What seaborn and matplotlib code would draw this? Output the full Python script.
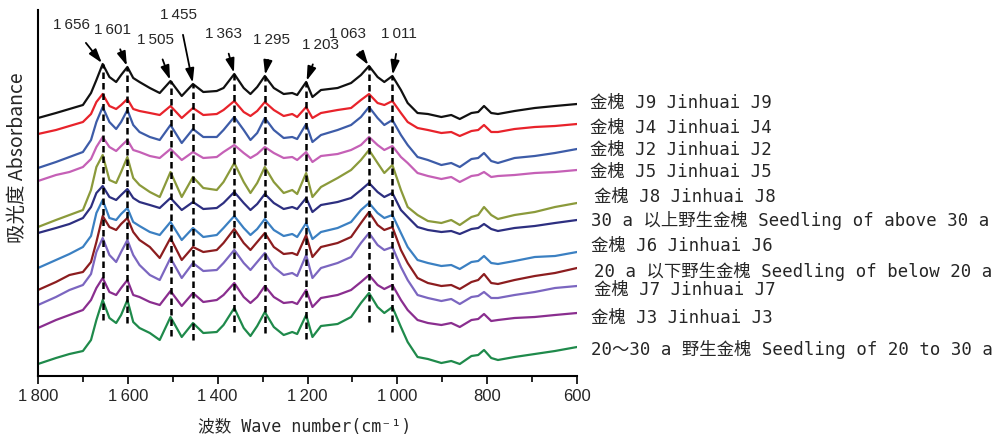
import numpy as np
import pandas as pd
import matplotlib
matplotlib.use('Agg')
import matplotlib.pyplot as plt
from matplotlib.ticker import FixedLocator, MultipleLocator
import seaborn as sns

# wavenumber grid (cm-1) and stacked absorbance traces (offset, a.u.)
wavenumber = [1800, 1760, 1730, 1700, 1682, 1670, 1656, 1641, 1626, 1615,
              1601, 1588, 1574, 1551, 1529, 1505, 1480, 1455, 1432, 1402,
              1387, 1363, 1342, 1327, 1312, 1295, 1275, 1253, 1234, 1223,
              1203, 1189, 1170, 1133, 1103, 1081, 1063, 1044, 1029, 1011,
              992, 977, 955, 932, 902, 880, 861, 835, 820, 807,
              791, 776, 739, 694, 649, 600]

j9 = [258, 263, 267, 271, 283, 296, 312, 299, 294, 301,
      309, 298, 294, 288, 283, 295, 280, 292, 284, 285,
      288, 302, 288, 282, 289, 300, 288, 282, 283, 281,
      294, 279, 286, 288, 293, 301, 310, 299, 294, 300,
      286, 273, 263, 262, 259, 261, 257, 263, 264, 270,
      263, 262, 265, 268, 270, 272]
j4 = [242, 246, 250, 254, 262, 274, 282, 270, 267, 271,
      277, 267, 265, 263, 261, 270, 258, 268, 261, 262,
      266, 275, 264, 260, 265, 274, 266, 260, 262, 259,
      269, 258, 263, 266, 268, 276, 282, 273, 271, 275,
      263, 254, 248, 246, 243, 244, 240, 245, 246, 251,
      244, 244, 247, 249, 250, 252]
j2 = [208, 214, 219, 224, 236, 254, 269, 254, 247, 254,
      266, 251, 244, 239, 236, 251, 233, 247, 239, 239,
      246, 259, 246, 236, 243, 258, 246, 238, 239, 237,
      252, 234, 241, 246, 251, 259, 269, 258, 251, 256,
      241, 231, 219, 216, 211, 213, 209, 217, 218, 223,
      215, 213, 218, 220, 223, 227]
j5 = [195, 201, 204, 209, 217, 229, 239, 229, 225, 230,
      236, 226, 224, 220, 218, 227, 216, 224, 218, 219,
      224, 231, 223, 218, 222, 229, 223, 218, 219, 216,
      224, 214, 220, 222, 226, 231, 239, 231, 226, 230,
      219, 213, 203, 200, 197, 199, 194, 200, 201, 204,
      199, 200, 201, 203, 204, 206]
j8 = [149, 156, 161, 166, 186, 209, 221, 196, 193, 204,
      219, 198, 191, 184, 179, 204, 179, 199, 188, 186,
      194, 213, 194, 183, 193, 209, 194, 183, 186, 182,
      203, 179, 189, 198, 206, 216, 226, 213, 203, 211,
      186, 169, 161, 155, 153, 156, 151, 159, 161, 169,
      161, 157, 161, 164, 169, 173]
wild_above30 = [143, 148, 152, 158, 169, 183, 190, 179, 176, 181,
                187, 178, 174, 171, 168, 178, 166, 174, 167, 168,
                173, 184, 173, 166, 172, 182, 173, 167, 169, 167,
                178, 164, 171, 174, 178, 186, 193, 184, 179, 183,
                166, 159, 149, 146, 144, 145, 142, 147, 148, 152,
                147, 145, 148, 150, 153, 156]
j6 = [108, 116, 122, 129, 140, 163, 176, 158, 156, 162,
      168, 154, 150, 144, 141, 154, 136, 148, 139, 141,
      148, 160, 148, 141, 147, 157, 146, 140, 142, 139,
      153, 137, 144, 148, 154, 166, 173, 163, 158, 161,
      143, 129, 116, 113, 110, 111, 107, 114, 115, 120,
      113, 112, 115, 119, 120, 124]
wild_below20 = [86, 94, 101, 104, 114, 134, 160, 149, 146, 152,
                158, 144, 136, 129, 118, 138, 116, 129, 124, 126,
                133, 147, 133, 126, 134, 143, 129, 122, 123, 121,
                141, 119, 129, 133, 139, 153, 164, 151, 146, 149,
                126, 113, 98, 93, 90, 91, 87, 94, 96, 102,
                93, 92, 96, 100, 103, 108]
j7 = [71, 79, 86, 91, 102, 124, 138, 121, 114, 124,
      136, 121, 111, 101, 96, 118, 98, 113, 105, 106,
      113, 126, 113, 106, 114, 123, 109, 101, 103, 100,
      121, 98, 108, 113, 119, 133, 143, 131, 126, 129,
      109, 96, 81, 78, 75, 77, 72, 79, 80, 84,
      78, 78, 81, 84, 88, 90]
j3 = [48, 56, 61, 66, 76, 88, 98, 84, 81, 88,
      96, 81, 79, 74, 71, 85, 70, 83, 74, 76,
      81, 93, 79, 73, 79, 90, 79, 73, 74, 72,
      86, 69, 78, 81, 86, 94, 101, 91, 87, 91,
      76, 66, 56, 53, 51, 53, 49, 56, 57, 62,
      55, 56, 58, 59, 61, 63]
wild_20to30 = [12, 18, 22, 25, 36, 56, 76, 58, 53, 61,
               76, 54, 48, 43, 36, 59, 39, 53, 43, 44,
               51, 68, 48, 40, 50, 64, 49, 41, 44, 42,
               61, 39, 50, 52, 59, 73, 83, 69, 63, 69,
               49, 34, 19, 17, 13, 15, 12, 20, 21, 26,
               18, 16, 19, 22, 25, 29]

sample_labels = ['金槐 J9 Jinhuai J9', '金槐 J4 Jinhuai J4', '金槐 J2 Jinhuai J2',
                 '金槐 J5 Jinhuai J5', '金槐 J8 Jinhuai J8',
                 '30 a 以上野生金槐 Seedling of above 30 a',
                 '金槐 J6 Jinhuai J6',
                 '20 a 以下野生金槐 Seedling of below 20 a',
                 '金槐 J7 Jinhuai J7', '金槐 J3 Jinhuai J3',
                 '20～30 a 野生金槐 Seedling of 20 to 30 a']
series = [j9, j4, j2, j5, j8, wild_above30, j6, wild_below20, j7, j3, wild_20to30]
colors = ['#111111', '#e8232b', '#3d5ca8', '#c560b6', '#8b9a3b', '#2d2f80',
          '#3b80c2', '#8c1d1f', '#7b66c0', '#8a2e8f', '#1f8a4b']

peaks = [1656, 1601, 1505, 1455, 1363, 1295, 1203, 1063, 1011]
peak_labels = ['1\u2009656', '1\u2009601', '1\u2009505', '1\u2009455', '1\u2009363',
               '1\u2009295', '1\u2009203', '1\u2009063', '1\u2009011']
dash_bottoms = [56, 53, 40, 36, 44, 43, 37, 54, 44]

tick_values = [1800, 1600, 1400, 1200, 1000, 800, 600]
tick_labels = ['1\u2009800', '1\u2009600', '1\u2009400', '1\u2009200', '1\u2009000', '800', '600']

# layout / style (pixel offsets)
label_offsets = [(-31, 39), (-15, 37), (-15, 41), (-14, 69), (-11, 40),
                 (7, 36), (14, 37), (-22, 32), (7, 42)]
name_nudge = [(13, 1), (13, -4), (13, -1), (13, -2), (17, 6), (14, 0),
              (14, 6), (17, -3), (17, -4), (14, -5), (14, -2)]

mono = ['DejaVu Sans Mono', 'Noto Sans CJK SC', 'DejaVu Sans']
nums = ['Liberation Sans', 'DejaVu Sans']

frames = []
for name, vals in zip(sample_labels, series):
    frames.append(pd.DataFrame({'wavenumber': wavenumber, 'absorbance': vals, 'sample': name}))
df = pd.concat(frames, ignore_index=True)

sns.set_style('ticks')
fig = plt.figure(figsize=(10.08, 4.4), dpi=100)
ax = fig.add_axes([38 / 1008, 64 / 440, 539 / 1008, 366 / 440])

sns.lineplot(data=df, x='wavenumber', y='absorbance', hue='sample',
             palette=dict(zip(sample_labels, colors)), hue_order=sample_labels,
             estimator=None, legend=False, linewidth=1.6, ax=ax)

# dashed guides from the J9 peaks downwards
tops = [j9[wavenumber.index(p)] for p in peaks]
ax.vlines(peaks, dash_bottoms, tops, colors='black', linestyles=(0, (2.6, 1.6)),
          linewidth=1.8, zorder=4)

for p, top, lab, off in zip(peaks, tops, peak_labels, label_offsets):
    ax.annotate(lab, xy=(p, top), xytext=off, textcoords='offset pixels',
                ha='center', va='center', fontsize=11, family=nums,
                arrowprops=dict(arrowstyle='-|>,head_length=0.7,head_width=0.22',
                                color='black', lw=1.3, shrinkA=7, shrinkB=1,
                                mutation_scale=12))

for name, vals, off in zip(sample_labels, series, name_nudge):
    ax.annotate(name, xy=(wavenumber[-1], vals[-1]), xytext=off,
                textcoords='offset pixels', ha='left', va='center',
                fontsize=12.5, family=mono, annotation_clip=False)

ax.set_xlim(1800, 600)
ax.set_ylim(0, 366)
ax.xaxis.set_major_locator(FixedLocator(tick_values))
ax.set_xticklabels(tick_labels, fontsize=12, family=nums)
ax.xaxis.set_minor_locator(MultipleLocator(100))
ax.tick_params(axis='x', which='major', direction='out', length=6, width=1.4, pad=3)
ax.tick_params(axis='x', which='minor', direction='out', length=4, width=1.4)
ax.set_yticks([])
sns.despine(ax=ax, top=True, right=True)
for side in ['left', 'bottom']:
    ax.spines[side].set_linewidth(1.5)
    ax.spines[side].set_color('black')

ax.set_xlabel('波数 Wave number(cm⁻¹)', fontsize=12, family=mono)
ax.xaxis.set_label_coords(0.495, -0.115)
ax.set_ylabel('吸光度 Absorbance', fontsize=14, family=['Noto Sans CJK SC', 'DejaVu Sans'])
ax.yaxis.set_label_coords(-0.018, 0.596)

fig.savefig('out.png', dpi=100)
